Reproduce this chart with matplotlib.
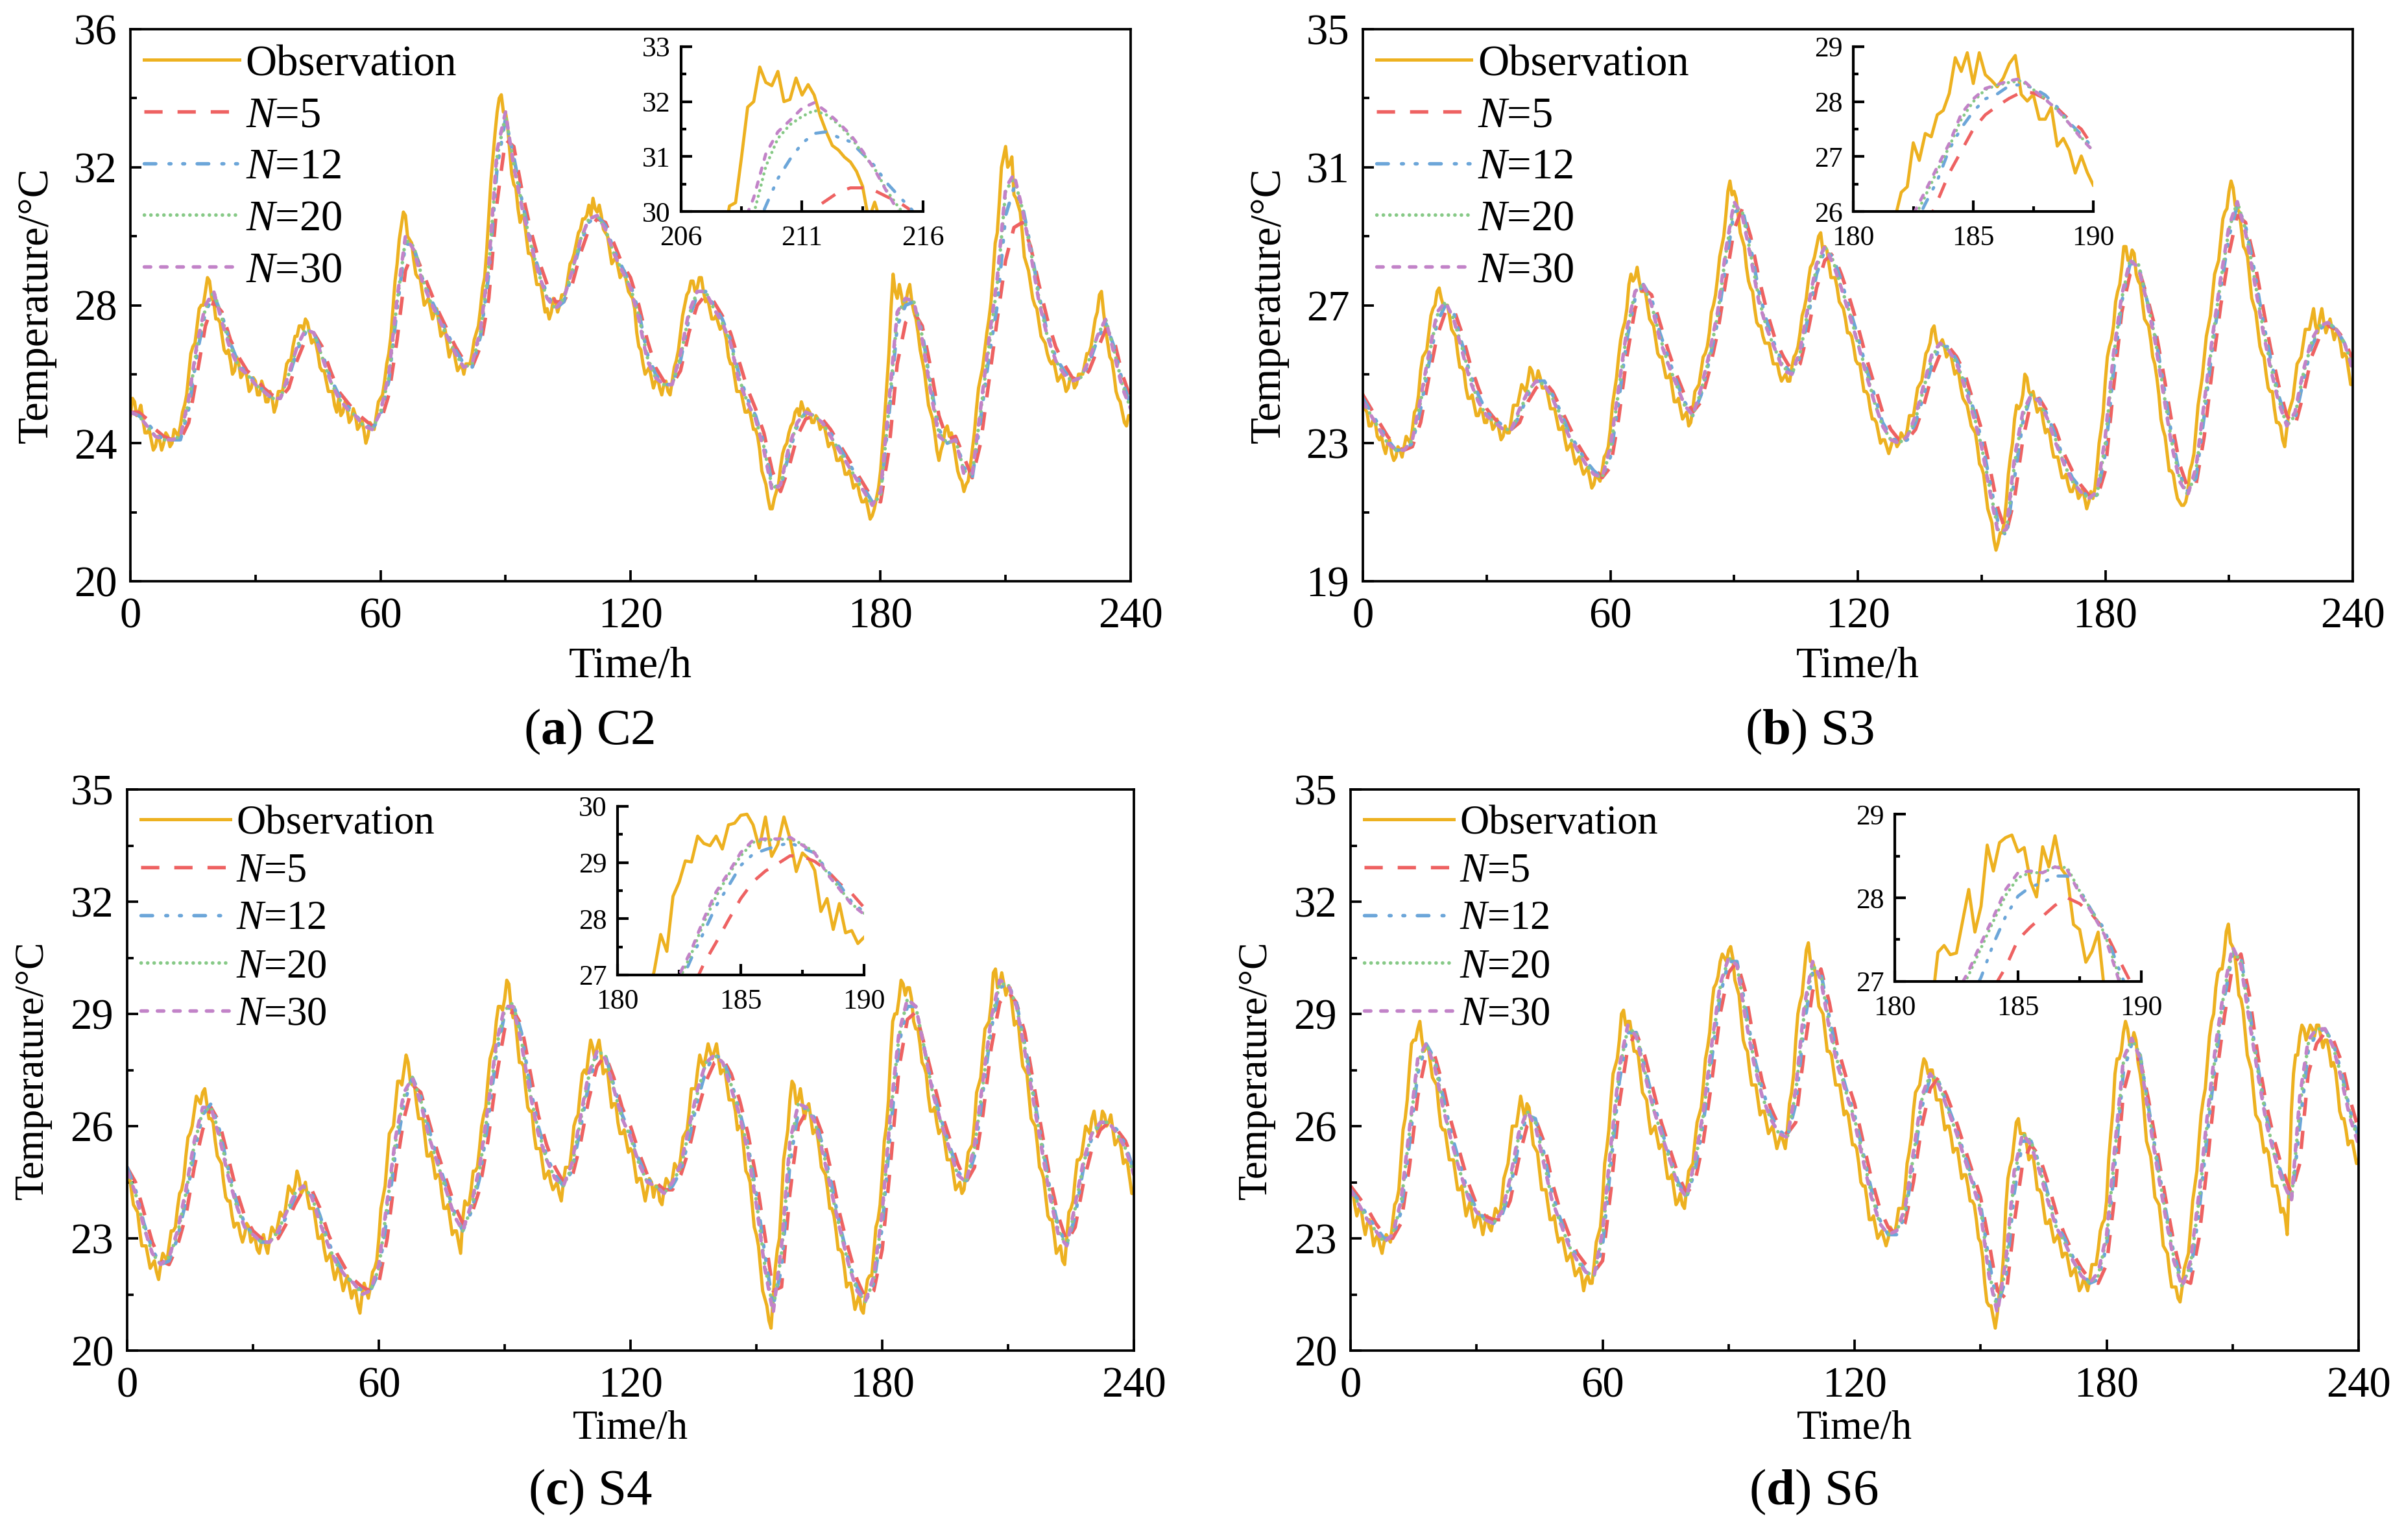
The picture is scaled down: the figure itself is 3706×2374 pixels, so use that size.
import numpy as np
import matplotlib
matplotlib.use("Agg")
import matplotlib.pyplot as plt

plt.rcParams['font.family'] = ['Liberation Serif', 'DejaVu Serif']
plt.rcParams['mathtext.fontset'] = 'custom'
plt.rcParams['mathtext.rm'] = 'Liberation Serif'
plt.rcParams['mathtext.it'] = 'Liberation Serif:italic'
plt.rcParams['mathtext.bf'] = 'Liberation Serif:bold'

# ---------------- data ----------------
# observation on the full hour, t = 0..240 h
obs_c2 = [
    24.8, 25.2, 24.9, 24.7, 24.3, 24.1, 23.9, 24.1, 24.0, 24.2,
    24.0, 24.3, 24.5, 25.1, 26.0, 26.8, 27.4, 28.0, 28.4, 28.7,
    28.1, 27.6, 27.1, 26.6, 26.4, 26.1, 26.3, 26.0, 25.9, 25.6,
    25.8, 25.4, 25.6, 25.2, 25.3, 25.1, 25.5, 25.9, 26.4, 26.8,
    27.1, 27.4, 27.6, 27.2, 27.0, 26.6, 26.1, 25.8, 25.5, 25.1,
    25.3, 24.9, 25.0, 24.7, 24.8, 24.5, 24.4, 24.2, 24.5, 24.8,
    25.3, 25.8, 26.6, 27.9, 29.2, 30.3, 30.6, 29.9, 29.3, 28.8,
    28.4, 28.1, 27.9, 27.8, 27.5, 27.2, 26.9, 26.7, 26.4, 26.2,
    26.0, 26.3, 26.6, 27.2, 27.9, 28.8, 30.6, 32.3, 33.6, 34.1,
    33.6, 32.5, 31.5, 30.8, 30.6, 30.0, 29.5, 29.0, 28.6, 28.2,
    27.9, 27.8, 28.1, 28.0, 28.3, 28.8, 29.3, 29.8, 30.2, 30.5,
    30.9, 31.1, 30.7, 30.6, 30.1, 29.6, 29.3, 29.1, 28.9, 28.7,
    28.3, 27.9, 26.8, 26.3, 26.1, 25.9, 25.8, 25.6, 25.7, 25.5,
    25.8, 26.4, 27.2, 28.0, 28.4, 28.7, 28.5, 28.8, 28.1, 27.9,
    27.6, 27.5, 27.4, 27.0, 26.3, 25.9, 25.5, 25.2, 24.9, 24.7,
    24.4, 23.8, 23.0, 22.4, 22.1, 22.6, 23.3, 23.9, 24.3, 24.6,
    25.0, 25.2, 24.8, 24.9, 24.6, 24.7, 24.5, 24.2, 24.0, 23.8,
    23.5, 23.4, 23.1, 23.0, 22.8, 22.5, 22.3, 22.1, 21.9, 22.4,
    23.2, 24.8, 26.6, 28.9, 28.2, 28.3, 28.0, 28.6, 27.8, 27.2,
    26.4, 25.6, 24.9, 24.3, 23.5, 24.0, 24.5, 24.3, 23.6, 23.0,
    22.6, 22.9, 23.8, 25.0, 25.9, 26.7, 27.6, 28.9, 30.1, 32.0,
    32.6, 32.1, 31.2, 30.9, 30.1, 29.2, 28.6, 28.0, 27.5, 27.0,
    26.6, 26.3, 26.1, 25.9, 25.8, 25.6, 25.9, 25.7, 26.0, 26.3,
    26.6, 27.2, 27.8, 28.4, 27.3, 26.5, 26.0, 25.3, 24.9, 24.5,
    24.8]
# observation on the half hour, t = 0.5..239.5 h
obs_c2_half = [
    25.3, 24.8, 25.1, 24.3, 24.4, 23.8, 24.2, 23.8, 24.3, 23.9,
    24.4, 24.2, 24.9, 25.4, 26.6, 26.9, 27.9, 28.0, 28.8, 28.2,
    27.6, 27.5, 26.7, 26.7, 26.0, 26.5, 25.9, 26.2, 25.5, 25.9,
    25.4, 25.8, 25.2, 25.5, 24.9, 25.5, 25.5, 26.3, 26.4, 27.1,
    27.4, 27.3, 27.5, 26.9, 26.9, 26.2, 26.1, 25.5, 25.5, 24.9,
    24.8, 25.2, 24.6, 25.0, 24.4, 24.7, 24.0, 24.6, 24.4, 25.2,
    25.4, 26.3, 27.1, 28.7, 29.9, 30.7, 30.0, 29.8, 28.9, 28.8,
    28.0, 28.2, 27.6, 27.9, 27.1, 27.3, 26.5, 26.8, 26.1, 26.3,
    26.3, 26.3, 27.0, 27.4, 28.5, 29.6, 31.6, 33.0, 34.0, 33.6,
    33.2, 31.8, 31.4, 30.4, 30.5, 29.5, 29.4, 28.6, 28.6, 27.8,
    27.6, 28.2, 27.8, 28.3, 28.4, 29.2, 29.5, 30.1, 30.5, 30.6,
    30.6, 30.8, 30.9, 30.2, 30.0, 29.2, 29.4, 28.8, 29.0, 28.4,
    28.2, 27.2, 26.7, 26.0, 26.2, 25.6, 25.9, 25.4, 25.8, 25.4,
    26.2, 26.7, 27.7, 28.3, 28.7, 28.4, 28.8, 28.4, 28.2, 27.6,
    27.7, 27.3, 27.3, 26.5, 26.3, 25.5, 25.5, 24.9, 25.0, 24.4,
    24.2, 23.2, 22.8, 22.1, 22.4, 22.8, 23.7, 24.0, 24.5, 24.9,
    24.8, 25.0, 25.0, 24.6, 24.8, 24.4, 24.5, 23.9, 24.0, 23.5,
    23.6, 23.1, 23.2, 22.7, 22.8, 22.3, 22.4, 21.8, 22.1, 22.7,
    24.0, 25.7, 27.9, 28.4, 28.6, 27.9, 28.4, 28.1, 27.6, 26.7,
    26.1, 25.1, 24.7, 23.8, 23.8, 24.4, 24.2, 24.0, 23.2, 22.9,
    22.8, 23.3, 24.3, 25.6, 26.2, 27.2, 28.1, 29.8, 31.0, 32.3,
    32.0, 32.3, 31.1, 30.7, 29.4, 29.0, 28.2, 27.9, 27.1, 26.9,
    26.4, 26.4, 25.8, 26.0, 25.5, 25.9, 25.6, 26.0, 26.0, 26.6,
    26.8, 27.6, 28.3, 27.8, 26.9, 26.4, 25.5, 25.2, 24.6, 24.8]

obs_s3 = [
    24.4, 23.9, 23.5, 23.6, 23.1, 22.9, 23.0, 22.7, 22.6, 22.8,
    22.9, 23.1, 23.4, 24.0, 25.1, 25.6, 26.2, 26.9, 27.4, 27.2,
    27.0, 26.7, 26.2, 25.6, 25.2, 24.6, 24.3, 24.1, 23.8, 23.9,
    23.6, 23.7, 23.5, 23.4, 23.2, 23.3, 23.7, 24.1, 24.4, 24.6,
    24.8, 25.1, 24.8, 24.9, 24.6, 24.3, 24.0, 23.7, 23.4, 23.1,
    22.9, 22.7, 22.5, 22.3, 22.2, 22.0, 21.8, 22.0, 22.2, 22.7,
    23.4, 24.5, 25.5, 26.3, 26.9, 27.9, 27.8, 27.7, 27.4, 27.0,
    26.5, 26.0, 25.5, 25.2, 24.9, 24.6, 24.2, 24.0, 23.8, 23.5,
    24.0, 24.6, 25.1, 25.6, 26.2, 27.0, 27.8, 28.7, 29.6, 30.6,
    30.3, 29.6, 28.9, 28.1, 27.5, 26.9, 26.4, 26.1, 25.9, 25.6,
    25.3, 25.0, 24.9, 24.8, 25.2, 25.6, 26.2, 26.9, 27.7, 28.2,
    28.7, 29.1, 28.7, 28.2, 27.8, 27.5, 27.0, 26.6, 26.2, 25.8,
    25.3, 24.9, 24.5, 24.0, 23.7, 23.3, 23.1, 22.9, 22.9, 23.1,
    23.0, 23.2, 23.4, 23.8, 24.2, 24.7, 25.2, 25.7, 26.3, 26.0,
    25.9, 25.8, 25.6, 25.3, 25.1, 24.6, 24.2, 23.8, 23.4, 22.9,
    22.3, 21.6, 20.9, 20.2, 20.1, 20.4, 21.3, 22.6, 23.7, 24.0,
    24.4, 24.9, 24.4, 24.2, 24.0, 23.6, 23.4, 22.9, 22.6, 22.3,
    22.0, 21.8, 21.6, 21.7, 21.5, 21.4, 21.3, 21.4, 22.3, 23.4,
    24.8, 25.8, 26.4, 27.4, 28.1, 28.7, 28.3, 28.5, 27.7, 27.1,
    26.5, 26.0, 25.3, 24.4, 23.4, 22.7, 22.2, 21.7, 21.3, 21.2,
    21.6, 22.4, 23.4, 24.5, 25.5, 26.4, 27.3, 28.1, 28.9, 29.7,
    30.3, 30.4, 29.8, 29.2, 28.6, 27.8, 27.0, 26.3, 25.6, 25.0,
    24.5, 24.0, 23.6, 23.1, 23.4, 24.1, 24.8, 25.4, 25.9, 26.3,
    26.6, 26.4, 26.6, 26.5, 26.4, 26.3, 26.2, 25.9, 25.6, 25.1,
    24.7]
obs_s3_half = [
    24.0, 23.5, 23.7, 23.2, 23.2, 22.7, 23.1, 22.5, 22.9, 22.6,
    23.2, 23.0, 23.9, 24.4, 25.5, 25.7, 26.7, 27.0, 27.5, 27.0,
    27.0, 26.3, 26.1, 25.2, 25.1, 24.3, 24.4, 23.8, 24.0, 23.6,
    23.9, 23.4, 23.7, 23.1, 23.5, 23.3, 24.1, 24.1, 24.7, 24.5,
    25.2, 24.8, 25.1, 24.6, 24.6, 24.0, 24.0, 23.4, 23.5, 22.8,
    23.0, 22.4, 22.6, 22.1, 22.3, 21.7, 22.1, 21.9, 22.6, 22.9,
    24.1, 24.9, 26.0, 26.5, 27.6, 27.7, 28.1, 27.4, 27.4, 26.6,
    26.4, 25.6, 25.5, 24.9, 25.0, 24.2, 24.3, 23.7, 23.9, 23.6,
    24.5, 24.7, 25.5, 25.8, 26.8, 27.3, 28.4, 29.0, 30.3, 30.2,
    30.1, 29.1, 28.7, 27.7, 27.4, 26.5, 26.4, 25.9, 25.9, 25.3,
    25.3, 24.8, 25.0, 24.8, 25.5, 25.8, 26.7, 27.2, 28.1, 28.4,
    29.0, 28.6, 28.6, 27.8, 27.8, 27.1, 26.9, 26.2, 26.1, 25.4,
    25.3, 24.5, 24.4, 23.7, 23.6, 23.0, 23.1, 22.7, 23.1, 22.9,
    23.3, 23.1, 23.8, 23.8, 24.6, 24.8, 25.6, 25.9, 26.4, 25.8,
    26.0, 25.5, 25.6, 25.0, 25.0, 24.3, 24.1, 23.5, 23.3, 22.4,
    22.1, 21.1, 20.7, 19.9, 20.4, 20.7, 22.1, 23.0, 24.1, 24.1,
    25.0, 24.5, 24.5, 23.9, 24.0, 23.3, 23.3, 22.6, 22.6, 22.0,
    22.1, 21.6, 21.8, 21.4, 21.7, 21.1, 21.6, 21.7, 23.0, 23.9,
    25.5, 26.0, 27.1, 27.6, 28.7, 28.3, 28.6, 27.9, 27.6, 26.6,
    26.4, 25.5, 24.9, 23.7, 23.2, 22.2, 22.1, 21.4, 21.2, 21.3,
    22.2, 22.7, 24.1, 24.9, 26.1, 26.7, 27.9, 28.3, 29.5, 29.8,
    30.6, 29.9, 29.7, 28.7, 28.4, 27.2, 26.8, 25.8, 25.5, 24.6,
    24.5, 23.6, 23.5, 22.9, 23.9, 24.3, 25.3, 25.5, 26.3, 26.3,
    26.9, 26.2, 26.9, 26.2, 26.6, 26.0, 26.2, 25.5, 25.5, 24.7]

obs_s4 = [
    24.8, 24.3, 23.8, 23.2, 22.8, 22.5, 22.3, 22.1, 22.3, 22.5,
    22.8, 23.2, 23.8, 24.3, 25.2, 25.8, 26.4, 26.7, 26.9, 26.6,
    26.2, 25.6, 25.1, 24.5, 24.0, 23.6, 23.4, 23.1, 23.1, 23.3,
    23.0, 22.7, 22.9, 22.8, 23.0, 23.2, 23.4, 23.6, 24.0, 24.3,
    24.4, 24.6, 24.3, 24.1, 23.8, 23.4, 23.0, 22.7, 22.5, 22.2,
    22.1, 21.9, 21.8, 21.7, 21.6, 21.2, 21.5, 21.6, 21.7, 22.2,
    23.0, 24.1, 25.1, 25.9, 26.6, 27.2, 27.5, 27.7, 27.1, 26.6,
    26.2, 25.7, 25.2, 25.0, 24.7, 24.2, 23.8, 23.5, 23.2, 22.9,
    23.5, 23.9, 24.3, 24.8, 25.4, 26.3, 27.2, 28.0, 28.8, 29.2,
    29.4, 29.8, 28.9, 28.3, 27.7, 27.0, 26.4, 25.8, 25.4, 25.0,
    24.7, 24.5, 24.4, 24.2, 24.5, 24.9, 25.4, 26.2, 26.9, 27.5,
    27.9, 28.1, 28.1, 27.9, 27.5, 27.0, 26.6, 26.1, 25.8, 25.6,
    25.4, 24.9, 24.6, 24.3, 24.3, 24.5, 24.4, 24.0, 24.3, 24.5,
    24.6, 24.9, 25.2, 25.8, 26.4, 27.0, 27.5, 27.7, 27.9, 28.0,
    28.0, 27.8, 27.5, 27.1, 26.7, 26.4, 26.0, 25.4, 24.7, 23.9,
    23.1, 22.2, 21.4, 20.8, 21.4, 22.7, 24.0, 25.5, 26.7, 27.1,
    26.7, 26.6, 26.5, 26.2, 25.9, 25.4, 24.8, 24.3, 23.8, 23.2,
    22.7, 22.2, 21.8, 21.5, 21.3, 21.1, 21.5, 22.0, 22.6, 23.5,
    24.7, 26.0, 27.9, 29.0, 29.4, 29.8, 29.7, 29.4, 28.6, 28.2,
    27.6, 26.8, 26.4, 26.1, 25.9, 25.5, 25.1, 24.7, 24.4, 24.2,
    24.8, 25.4, 26.1, 27.1, 28.0, 28.7, 29.3, 30.2, 29.8, 29.8,
    29.7, 29.2, 28.8, 28.1, 27.5, 26.8, 26.1, 25.5, 24.8, 24.1,
    23.5, 23.1, 22.7, 22.4, 23.0, 23.8, 24.6, 25.1, 25.6, 25.9,
    26.2, 26.0, 26.0, 26.3, 26.1, 25.9, 25.6, 25.4, 25.1, 24.6,
    24.2]
obs_s4_half = [
    24.7, 23.9, 23.7, 22.8, 22.8, 22.2, 22.4, 21.9, 22.6, 22.4,
    23.2, 23.3, 24.2, 24.6, 25.7, 26.0, 26.8, 26.6, 27.0, 26.2,
    26.1, 25.2, 25.0, 24.1, 24.0, 23.3, 23.4, 22.9, 23.4, 22.9,
    23.0, 22.6, 23.1, 22.6, 23.3, 23.1, 23.7, 23.6, 24.4, 24.2,
    24.8, 24.2, 24.5, 23.8, 23.8, 23.0, 23.1, 22.4, 22.6, 21.9,
    22.3, 21.6, 22.0, 21.4, 21.6, 21.0, 21.8, 21.4, 22.1, 22.4,
    23.8, 24.4, 25.8, 26.0, 27.2, 27.1, 27.9, 27.2, 27.1, 26.2,
    26.2, 25.2, 25.3, 24.6, 24.7, 23.8, 23.9, 23.1, 23.2, 22.6,
    24.0, 23.9, 24.8, 24.9, 26.0, 26.5, 27.8, 28.2, 29.2, 29.1,
    29.9, 29.2, 28.9, 27.7, 27.6, 26.5, 26.4, 25.4, 25.4, 24.6,
    24.8, 24.3, 24.5, 24.0, 24.9, 24.9, 26.0, 26.3, 27.4, 27.4,
    28.3, 27.8, 28.3, 27.4, 27.5, 26.5, 26.6, 25.8, 25.9, 25.3,
    25.3, 24.5, 24.6, 24.0, 24.6, 24.1, 24.4, 23.9, 24.6, 24.3,
    25.0, 24.8, 25.7, 25.9, 27.0, 27.0, 27.9, 27.6, 28.2, 27.8,
    28.2, 27.4, 27.5, 26.7, 26.7, 25.9, 26.0, 24.8, 24.5, 23.3,
    22.8, 21.6, 21.2, 20.6, 22.2, 23.0, 25.1, 25.9, 27.2, 26.6,
    27.0, 26.2, 26.6, 25.8, 25.8, 24.9, 24.7, 23.8, 23.6, 22.7,
    22.6, 21.7, 21.8, 21.1, 21.5, 21.0, 21.9, 22.0, 23.3, 23.9,
    25.6, 26.7, 28.8, 29.0, 29.9, 29.5, 29.7, 28.8, 28.6, 27.7,
    27.4, 26.4, 26.5, 25.8, 25.9, 25.1, 25.1, 24.3, 24.5, 24.3,
    25.3, 25.5, 26.9, 27.3, 28.6, 28.8, 30.1, 29.7, 30.1, 29.5,
    29.7, 28.7, 28.7, 27.6, 27.4, 26.2, 26.0, 24.9, 24.6, 23.6,
    23.5, 22.6, 22.8, 22.3, 23.7, 24.0, 25.1, 25.2, 26.0, 25.8,
    26.4, 25.8, 26.4, 26.0, 26.3, 25.5, 25.7, 25.0, 25.0, 24.2]

obs_s6 = [
    24.2, 23.9, 23.8, 23.4, 23.4, 23.2, 23.0, 22.8, 22.9, 23.0,
    23.4, 24.0, 25.1, 26.2, 27.5, 28.3, 28.6, 28.3, 28.1, 27.7,
    27.2, 26.5, 25.9, 25.5, 25.1, 24.7, 24.3, 24.0, 23.8, 23.6,
    23.5, 23.4, 23.4, 23.3, 23.5, 23.7, 24.0, 24.8, 25.5, 26.0,
    26.4, 26.5, 26.6, 26.0, 25.4, 24.8, 24.3, 23.9, 23.5, 23.2,
    23.0, 22.7, 22.5, 22.3, 22.1, 22.0, 21.9, 21.8, 22.3, 23.1,
    24.0, 25.4, 26.7, 27.6, 28.3, 29.1, 28.8, 28.4, 28.0, 27.4,
    26.8, 26.2, 25.9, 25.7, 25.5, 25.0, 24.6, 24.3, 24.0, 23.9,
    24.3, 24.9, 25.6, 26.3, 27.1, 28.1, 29.2, 29.8, 30.4, 30.5,
    30.7, 30.5, 29.7, 28.9, 28.1, 27.5, 27.1, 26.7, 26.4, 26.1,
    25.9, 25.7, 25.6, 25.6, 25.9, 26.9, 28.3, 29.3, 30.1, 30.9,
    30.4, 29.7, 29.1, 28.5, 28.0, 27.5, 27.1, 26.7, 26.4, 25.9,
    25.5, 25.0, 24.4, 24.0, 23.5, 23.3, 23.1, 23.0, 23.0, 23.2,
    23.4, 23.8, 24.3, 25.3, 26.4, 27.0, 27.5, 27.7, 27.5, 27.1,
    26.7, 26.3, 26.0, 25.7, 25.4, 25.0, 24.7, 24.4, 24.0, 23.5,
    22.9, 21.8, 21.2, 20.9, 21.0, 21.8, 23.8, 24.9, 25.6, 26.2,
    25.8, 25.5, 25.2, 24.8, 24.3, 23.8, 23.4, 23.2, 23.0, 22.8,
    22.6, 22.3, 22.1, 21.9, 21.7, 21.8, 21.9, 22.3, 22.7, 23.4,
    24.0, 25.8, 27.4, 27.8, 28.5, 28.6, 28.2, 28.3, 27.4, 26.3,
    25.4, 24.7, 24.0, 23.4, 22.7, 22.1, 21.7, 21.4, 21.7, 22.4,
    23.3, 24.4, 25.6, 26.7, 27.7, 28.8, 29.7, 30.2, 30.6, 31.4,
    30.8, 30.1, 29.4, 28.5, 27.7, 26.9, 26.2, 25.7, 25.4, 24.9,
    24.4, 24.1, 23.8, 23.1, 26.4, 27.9, 28.4, 28.6, 28.5, 28.6,
    28.7, 28.4, 28.3, 28.0, 27.7, 27.0, 26.2, 25.9, 25.6, 25.3,
    25.1]
obs_s6_half = [
    24.3, 23.6, 23.8, 23.1, 23.5, 22.8, 23.1, 22.6, 23.1, 22.9,
    23.9, 24.3, 25.9, 26.7, 28.2, 28.3, 28.8, 28.0, 28.1, 27.3,
    27.1, 26.0, 25.9, 25.1, 25.1, 24.3, 24.4, 23.6, 24.0, 23.3,
    23.7, 23.1, 23.6, 23.2, 23.8, 23.6, 24.6, 25.0, 26.0, 26.0,
    26.8, 26.2, 26.5, 25.5, 25.3, 24.3, 24.3, 23.5, 23.6, 22.9,
    23.0, 22.4, 22.6, 22.0, 22.2, 21.6, 22.0, 21.8, 22.9, 23.3,
    25.0, 25.9, 27.4, 27.8, 29.0, 28.7, 28.8, 28.0, 27.9, 26.9,
    26.7, 25.8, 26.0, 25.4, 25.5, 24.6, 24.7, 23.9, 24.2, 23.8,
    24.8, 25.0, 26.1, 26.5, 27.8, 28.5, 29.7, 30.0, 30.6, 30.4,
    30.8, 29.9, 29.5, 28.3, 28.0, 27.1, 27.1, 26.3, 26.4, 25.8,
    26.0, 25.4, 25.8, 25.4, 26.6, 27.4, 29.0, 29.5, 30.7, 30.4,
    30.2, 29.2, 29.0, 28.0, 27.9, 27.1, 27.1, 26.3, 26.3, 25.5,
    25.4, 24.5, 24.4, 23.5, 23.6, 23.0, 23.2, 22.8, 23.3, 23.1,
    23.8, 23.8, 25.0, 25.7, 26.9, 27.1, 27.8, 27.4, 27.5, 26.7,
    26.7, 25.9, 26.0, 25.3, 25.4, 24.6, 24.7, 24.0, 23.9, 23.0,
    22.5, 21.3, 21.2, 20.6, 21.6, 22.6, 24.6, 25.1, 26.1, 25.8,
    25.8, 25.1, 25.2, 24.3, 24.2, 23.4, 23.5, 22.9, 23.1, 22.5,
    22.6, 22.0, 22.2, 21.6, 21.9, 21.6, 22.3, 22.3, 23.2, 23.5,
    25.1, 26.4, 27.8, 28.0, 28.8, 28.2, 28.5, 27.7, 27.0, 25.6,
    25.2, 24.1, 23.9, 22.8, 22.6, 21.7, 21.7, 21.3, 22.2, 22.6,
    24.0, 24.8, 26.3, 27.0, 28.4, 29.0, 30.1, 30.2, 31.2, 30.9,
    30.6, 29.5, 29.1, 27.9, 27.5, 26.3, 26.1, 25.3, 25.3, 24.4,
    24.4, 23.7, 23.6, 24.6, 27.4, 27.9, 28.7, 28.3, 28.7, 28.4,
    28.7, 28.1, 28.3, 27.6, 27.5, 26.4, 26.2, 25.5, 25.6, 25.0]

# predictions every 2 h, t = 0..240 h
n5_c2 = [
    24.9, 24.9, 24.7, 24.4, 24.2, 24.1, 24.1, 24.6, 26.0, 27.4,
    28.1, 27.8, 27.0, 26.5, 26.1, 25.9, 25.6, 25.4, 25.3, 25.6,
    26.4, 27.0, 27.2, 26.8, 26.1, 25.5, 25.2, 24.9, 24.7, 24.5,
    24.6, 25.4, 27.0, 29.0, 29.6, 29.0, 28.4, 27.8, 27.3, 26.8,
    26.4, 26.2, 26.8, 28.2, 31.0, 32.8, 32.6, 31.3, 30.2, 29.3,
    28.6, 28.1, 28.1, 28.6, 29.5, 30.2, 30.5, 30.4, 29.8, 29.2,
    28.8, 28.0, 27.0, 26.2, 25.8, 25.7, 26.1, 27.2, 28.0, 28.3,
    28.1, 27.7, 27.2, 26.4, 25.6, 25.0, 24.3, 23.2, 22.6, 23.3,
    24.2, 24.7, 24.8, 24.7, 24.4, 24.0, 23.6, 23.2, 22.8, 22.4,
    22.3, 23.8, 26.3, 27.5, 27.8, 27.4, 26.2, 24.8, 24.1, 24.2,
    23.6, 23.0, 24.0, 25.8, 27.6, 29.3, 30.25, 30.4, 29.7, 28.6,
    27.6, 26.8, 26.3, 25.9, 25.8, 26.1, 26.7, 27.3, 27.0, 26.0, 25.3]
n12_c2 = [
    24.9, 24.8, 24.6, 24.3, 24.1, 24.1, 24.1, 25.0, 26.6, 27.8,
    28.3, 27.7, 26.9, 26.3, 26.0, 25.8, 25.5, 25.3, 25.3, 25.9,
    26.7, 27.2, 27.2, 26.6, 25.9, 25.4, 25.1, 24.8, 24.6, 24.4,
    24.8, 25.8, 27.9, 29.8, 29.7, 28.8, 28.2, 27.7, 27.2, 26.7,
    26.3, 26.2, 27.1, 28.9, 32.0, 33.4, 32.3, 31.0, 29.9, 29.0,
    28.3, 27.9, 28.1, 28.9, 29.8, 30.4, 30.6, 30.3, 29.6, 29.1,
    28.6, 27.8, 26.6, 26.0, 25.7, 25.7, 26.4, 27.6, 28.3, 28.4,
    28.0, 27.6, 27.0, 26.0, 25.3, 24.8, 24.0, 22.8, 22.7, 23.7,
    24.5, 24.9, 24.8, 24.6, 24.3, 23.9, 23.5, 23.1, 22.7, 22.3,
    22.5, 24.8, 27.4, 28.0, 28.1, 27.2, 25.7, 24.4, 24.0, 24.1,
    23.3, 23.0, 24.7, 26.5, 28.0, 30.6, 31.4, 30.9, 29.7, 28.3,
    27.2, 26.5, 26.1, 25.8, 25.9, 26.3, 27.0, 27.5, 26.8, 25.8, 25.1]
n20_c2 = [
    24.9, 24.8, 24.5, 24.2, 24.1, 24.1, 24.2, 25.2, 26.8, 27.9,
    28.4, 27.6, 26.8, 26.2, 26.0, 25.7, 25.5, 25.3, 25.3, 26.0,
    26.8, 27.3, 27.2, 26.5, 25.8, 25.3, 25.0, 24.8, 24.5, 24.4,
    24.9, 25.9, 28.1, 29.9, 29.7, 28.8, 28.1, 27.6, 27.1, 26.6,
    26.2, 26.3, 27.2, 29.1, 32.3, 33.5, 32.1, 30.9, 29.8, 28.9,
    28.2, 27.9, 28.2, 29.0, 29.9, 30.5, 30.6, 30.2, 29.5, 29.0,
    28.5, 27.7, 26.5, 25.9, 25.7, 25.7, 26.5, 27.7, 28.4, 28.4,
    27.9, 27.5, 26.9, 25.9, 25.2, 24.7, 23.9, 22.7, 22.8, 23.8,
    24.6, 24.9, 24.8, 24.6, 24.2, 23.8, 23.4, 23.0, 22.6, 22.2,
    22.5, 25.0, 27.7, 28.2, 28.1, 27.1, 25.6, 24.3, 24.0, 24.1,
    23.2, 23.1, 24.9, 26.8, 28.6, 31.3, 31.7, 30.8, 29.6, 28.2,
    27.1, 26.4, 26.0, 25.8, 25.9, 26.4, 27.1, 27.6, 26.7, 25.7, 25.0]
n30_c2 = [
    24.9, 24.8, 24.5, 24.2, 24.1, 24.1, 24.2, 25.3, 26.9, 28.0,
    28.4, 27.5, 26.7, 26.2, 26.0, 25.7, 25.5, 25.3, 25.3, 26.0,
    26.8, 27.3, 27.2, 26.5, 25.8, 25.3, 25.0, 24.8, 24.5, 24.4,
    24.9, 26.0, 28.2, 30.0, 29.6, 28.7, 28.1, 27.6, 27.1, 26.6,
    26.2, 26.3, 27.3, 29.2, 32.5, 33.6, 32.0, 30.8, 29.8, 28.9,
    28.2, 27.9, 28.2, 29.0, 29.9, 30.5, 30.6, 30.2, 29.5, 29.0,
    28.5, 27.6, 26.4, 25.9, 25.7, 25.7, 26.6, 27.8, 28.4, 28.4,
    27.9, 27.5, 26.9, 25.8, 25.2, 24.7, 23.8, 22.6, 22.8, 23.9,
    24.6, 24.9, 24.8, 24.6, 24.2, 23.8, 23.4, 23.0, 22.6, 22.2,
    22.6, 25.2, 27.8, 28.2, 28.1, 27.0, 25.5, 24.2, 24.0, 24.1,
    23.1, 23.1, 25.0, 27.0, 28.8, 31.4, 31.8, 30.8, 29.5, 28.1,
    27.1, 26.4, 26.0, 25.8, 25.9, 26.4, 27.1, 27.6, 26.6, 25.6, 25.0]

n5_s3 = [
    24.4, 24.0, 23.6, 23.2, 22.9, 22.8, 22.9, 23.6, 24.9, 26.1,
    26.8, 26.9, 26.2, 25.3, 24.6, 24.0, 23.7, 23.5, 23.4, 23.6,
    24.2, 24.6, 24.8, 24.5, 24.0, 23.5, 23.0, 22.6, 22.3, 22.0,
    22.3, 23.7, 25.5, 26.9, 27.5, 27.3, 26.5, 25.7, 25.0, 24.4,
    23.9, 24.2, 25.1, 26.2, 27.7, 29.2, 29.8, 29.0, 27.8, 26.8,
    26.0, 25.5, 25.1, 25.3, 26.3, 27.5, 28.3, 28.5, 27.9, 27.2,
    26.4, 25.5, 24.7, 23.9, 23.4, 23.1, 23.1, 23.4, 24.1, 25.0,
    25.6, 25.8, 25.5, 25.0, 24.2, 23.4, 22.3, 21.1, 20.4, 21.4,
    23.1, 24.2, 24.3, 23.9, 23.4, 22.7, 22.2, 21.8, 21.5, 21.4,
    22.2, 24.6, 26.8, 27.9, 28.1, 27.3, 26.4, 25.1, 23.7, 22.4,
    21.7, 21.8, 23.2, 25.2, 27.0, 28.5, 29.6, 29.4, 28.4, 27.1,
    25.8, 24.7, 23.8, 23.5, 24.4, 25.5, 26.1, 26.4, 26.3, 26.0, 25.4]
n12_s3 = [
    24.3, 23.9, 23.5, 23.1, 22.8, 22.8, 23.0, 24.0, 25.3, 26.5,
    27.0, 26.8, 25.9, 25.0, 24.4, 23.9, 23.7, 23.5, 23.4, 23.8,
    24.4, 24.8, 24.8, 24.4, 23.9, 23.3, 22.9, 22.5, 22.2, 22.0,
    22.6, 24.2, 26.0, 27.2, 27.6, 27.2, 26.2, 25.5, 24.8, 24.2,
    23.8, 24.4, 25.4, 26.5, 28.2, 29.7, 29.8, 28.7, 27.4, 26.5,
    25.8, 25.3, 25.0, 25.5, 26.7, 27.9, 28.6, 28.4, 27.7, 26.9,
    26.1, 25.2, 24.4, 23.6, 23.2, 23.0, 23.1, 23.6, 24.4, 25.3,
    25.8, 25.8, 25.4, 24.8, 24.0, 23.1, 21.9, 20.7, 20.3, 22.0,
    23.6, 24.4, 24.3, 23.8, 23.2, 22.5, 22.0, 21.7, 21.4, 21.5,
    22.7, 25.1, 27.1, 28.2, 28.2, 27.2, 26.2, 24.8, 23.3, 22.1,
    21.6, 22.0, 23.8, 25.8, 27.5, 29.0, 29.9, 29.3, 28.1, 26.7,
    25.5, 24.4, 23.6, 23.7, 24.8, 25.8, 26.3, 26.5, 26.3, 25.9, 25.2]
n20_s3 = [
    24.2, 23.8, 23.4, 23.0, 22.8, 22.8, 23.1, 24.2, 25.5, 26.7,
    27.1, 26.6, 25.8, 24.9, 24.2, 23.8, 23.6, 23.4, 23.4, 23.9,
    24.5, 24.8, 24.7, 24.3, 23.8, 23.2, 22.8, 22.4, 22.1, 22.0,
    22.8, 24.5, 26.2, 27.4, 27.6, 27.0, 26.1, 25.3, 24.7, 24.1,
    23.8, 24.5, 25.5, 26.7, 28.5, 29.9, 29.7, 28.5, 27.2, 26.3,
    25.7, 25.2, 25.0, 25.6, 26.9, 28.1, 28.7, 28.3, 27.5, 26.8,
    25.9, 25.1, 24.2, 23.5, 23.1, 23.0, 23.2, 23.7, 24.6, 25.5,
    25.9, 25.7, 25.3, 24.7, 23.9, 22.9, 21.7, 20.5, 20.4, 22.4,
    23.8, 24.4, 24.2, 23.7, 23.1, 22.4, 21.9, 21.6, 21.4, 21.5,
    23.0, 25.5, 27.2, 28.3, 28.2, 27.2, 26.1, 24.6, 23.1, 22.0,
    21.5, 22.2, 24.1, 26.0, 27.7, 29.2, 30.0, 29.2, 27.9, 26.5,
    25.3, 24.3, 23.5, 23.8, 25.0, 25.9, 26.4, 26.5, 26.3, 25.9, 25.2]
n30_s3 = [
    24.2, 23.8, 23.4, 23.0, 22.8, 22.8, 23.1, 24.3, 25.6, 26.8,
    27.1, 26.6, 25.7, 24.8, 24.2, 23.8, 23.6, 23.4, 23.4, 24.0,
    24.5, 24.8, 24.7, 24.3, 23.7, 23.2, 22.8, 22.4, 22.1, 22.0,
    22.9, 24.6, 26.3, 27.4, 27.6, 27.0, 26.0, 25.3, 24.7, 24.1,
    23.8, 24.6, 25.6, 26.8, 28.6, 30.0, 29.6, 28.4, 27.1, 26.3,
    25.7, 25.1, 25.0, 25.7, 27.0, 28.2, 28.7, 28.2, 27.5, 26.7,
    25.9, 25.0, 24.2, 23.5, 23.1, 23.0, 23.2, 23.8, 24.7, 25.6,
    25.9, 25.7, 25.3, 24.6, 23.8, 22.9, 21.6, 20.4, 20.5, 22.6,
    23.9, 24.4, 24.2, 23.7, 23.0, 22.4, 21.9, 21.6, 21.4, 21.6,
    23.2, 25.6, 27.3, 28.3, 28.1, 27.15, 26.0, 24.5, 23.0, 21.9,
    21.5, 22.3, 24.2, 26.1, 27.8, 29.3, 30.0, 29.1, 27.8, 26.4,
    25.2, 24.2, 23.5, 23.9, 25.1, 26.0, 26.4, 26.5, 26.3, 25.9, 25.1]

n5_s4 = [
    24.9, 24.5, 23.7, 22.9, 22.4, 22.3, 22.8, 23.6, 24.9, 25.9,
    26.5, 26.1, 25.2, 24.3, 23.6, 23.2, 23.0, 22.9, 23.0, 23.4,
    23.9, 24.3, 24.3, 23.8, 23.1, 22.6, 22.2, 21.9, 21.7, 21.6,
    21.8, 23.0, 24.8, 26.2, 27.1, 26.9, 26.1, 25.3, 24.6, 23.9,
    23.4, 23.6, 24.3, 25.6, 27.3, 28.6, 29.1, 28.7, 27.5, 26.3,
    25.5, 24.9, 24.5, 24.6, 25.5, 26.7, 27.6, 27.9, 27.3, 26.5,
    26.0, 25.3, 24.7, 24.5, 24.3, 24.3, 24.7, 25.4, 26.4, 27.2,
    27.7, 27.8, 27.4, 26.7, 25.8, 24.6, 23.1, 21.6, 21.7, 24.2,
    26.0, 26.4, 26.3, 25.7, 24.7, 23.6, 22.7, 21.9, 21.4, 21.6,
    22.7, 25.0, 27.55, 28.85, 29.05, 28.2, 27.3, 26.4, 25.7, 25.0,
    24.5, 24.9, 26.3, 28.1, 29.3, 29.6, 29.3, 28.5, 27.2, 25.9,
    24.6, 23.6, 22.9, 23.3, 24.5, 25.4, 25.9, 26.1, 25.9, 25.6, 25.0]
n12_s4 = [
    24.9, 24.3, 23.4, 22.7, 22.3, 22.4, 23.0, 24.0, 25.3, 26.3,
    26.6, 25.9, 24.9, 24.0, 23.4, 23.1, 22.9, 22.9, 23.1, 23.6,
    24.1, 24.4, 24.2, 23.6, 22.9, 22.4, 22.0, 21.8, 21.6, 21.6,
    22.1, 23.6, 25.3, 26.6, 27.3, 26.8, 25.9, 25.1, 24.4, 23.7,
    23.2, 23.7, 24.6, 26.1, 27.9, 29.0, 29.3, 28.5, 27.1, 26.0,
    25.2, 24.7, 24.4, 24.8, 25.9, 27.1, 27.9, 27.9, 27.1, 26.3,
    25.8, 25.1, 24.6, 24.4, 24.2, 24.4, 24.8, 25.7, 26.7, 27.5,
    27.9, 27.8, 27.2, 26.4, 25.5, 24.2, 22.6, 21.2, 22.2, 25.0,
    26.4, 26.5, 26.2, 25.4, 24.4, 23.3, 22.4, 21.7, 21.3, 21.8,
    23.3, 25.9, 28.2, 29.2, 29.2, 28.1, 27.0, 26.2, 25.5, 24.8,
    24.5, 25.2, 26.9, 28.6, 29.7, 29.8, 29.3, 28.2, 26.9, 25.6,
    24.3, 23.3, 22.8, 23.6, 24.9, 25.7, 26.1, 26.1, 25.9, 25.5, 24.8]
n20_s4 = [
    24.8, 24.2, 23.3, 22.6, 22.3, 22.5, 23.1, 24.2, 25.5, 26.4,
    26.5, 25.8, 24.8, 23.9, 23.3, 23.1, 22.9, 22.9, 23.2, 23.7,
    24.2, 24.4, 24.1, 23.5, 22.8, 22.3, 22.0, 21.8, 21.5, 21.6,
    22.2, 23.9, 25.6, 26.8, 27.3, 26.7, 25.7, 25.0, 24.3, 23.6,
    23.2, 23.8, 24.8, 26.4, 28.1, 29.1, 29.3, 28.3, 26.9, 25.9,
    25.1, 24.6, 24.4, 24.9, 26.1, 27.3, 28.0, 27.9, 27.0, 26.2,
    25.7, 25.0, 24.5, 24.4, 24.2, 24.5, 24.9, 25.9, 26.9, 27.7,
    27.9, 27.7, 27.1, 26.3, 25.4, 24.0, 22.3, 21.1, 22.6, 25.4,
    26.6, 26.5, 26.1, 25.3, 24.2, 23.2, 22.3, 21.6, 21.3, 21.9,
    23.6, 26.3, 28.4, 29.4, 29.2, 28.1, 26.9, 26.1, 25.4, 24.7,
    24.5, 25.4, 27.1, 28.8, 29.8, 29.8, 29.2, 28.1, 26.8, 25.5,
    24.2, 23.2, 22.8, 23.8, 25.0, 25.8, 26.1, 26.1, 25.8, 25.4, 24.7]
n30_s4 = [
    24.8, 24.2, 23.3, 22.6, 22.3, 22.5, 23.2, 24.3, 25.6, 26.5,
    26.5, 25.7, 24.7, 23.9, 23.3, 23.1, 22.9, 22.9, 23.2, 23.7,
    24.2, 24.4, 24.1, 23.4, 22.8, 22.3, 22.0, 21.8, 21.5, 21.6,
    22.3, 24.0, 25.7, 26.9, 27.3, 26.6, 25.7, 25.0, 24.3, 23.6,
    23.2, 23.9, 24.9, 26.5, 28.2, 29.2, 29.2, 28.2, 26.9, 25.8,
    25.1, 24.6, 24.4, 25.0, 26.2, 27.4, 28.0, 27.8, 27.0, 26.2,
    25.7, 25.0, 24.5, 24.4, 24.2, 24.5, 25.0, 26.0, 27.0, 27.7,
    27.9, 27.7, 27.0, 26.3, 25.3, 23.9, 22.2, 21.0, 22.8, 25.6,
    26.6, 26.5, 26.1, 25.2, 24.2, 23.2, 22.3, 21.6, 21.3, 22.0,
    23.7, 26.4, 28.5, 29.4, 29.2, 28.1, 26.9, 26.1, 25.4, 24.7,
    24.5, 25.5, 27.2, 28.9, 29.9, 29.8, 29.2, 28.0, 26.7, 25.4,
    24.1, 23.1, 22.8, 23.9, 25.1, 25.8, 26.1, 26.1, 25.8, 25.4, 24.7]

n5_s6 = [
    24.4, 24.1, 23.8, 23.4, 23.1, 23.0, 23.4, 24.9, 26.8, 27.9,
    27.9, 27.1, 26.1, 25.3, 24.5, 23.9, 23.6, 23.5, 23.5, 24.0,
    25.1, 26.0, 26.2, 25.6, 24.5, 23.7, 23.1, 22.6, 22.3, 22.1,
    22.4, 24.3, 26.6, 28.1, 28.5, 27.9, 27.0, 26.1, 25.4, 24.7,
    24.2, 24.5, 25.6, 27.2, 29.0, 30.1, 30.4, 29.6, 28.3, 27.2,
    26.5, 26.0, 25.8, 26.1, 28.0, 29.6, 30.2, 29.3, 28.1, 27.3,
    26.6, 25.6, 24.6, 23.8, 23.3, 23.1, 23.4, 24.5, 26.0, 27.0,
    27.3, 26.8, 26.2, 25.5, 24.8, 24.1, 22.9, 21.6, 21.4, 23.4,
    25.0, 25.5, 25.2, 24.5, 23.7, 23.1, 22.6, 22.2, 21.9, 21.8,
    22.3, 24.2, 26.9, 27.75, 27.8, 26.7, 25.4, 24.1, 22.9, 21.9,
    21.8, 23.0, 25.0, 27.2, 28.9, 30.3, 30.6, 29.5, 27.9, 26.6,
    25.6, 24.8, 24.2, 25.0, 27.4, 28.2, 28.5, 28.3, 27.7, 26.7, 25.9]
n12_s6 = [
    24.3, 24.0, 23.6, 23.3, 23.0, 23.0, 23.7, 25.5, 27.4, 28.2,
    27.8, 26.8, 25.8, 25.0, 24.2, 23.8, 23.5, 23.4, 23.6, 24.3,
    25.5, 26.3, 26.2, 25.3, 24.2, 23.5, 22.9, 22.5, 22.1, 22.0,
    22.8, 25.0, 27.2, 28.5, 28.5, 27.6, 26.7, 25.9, 25.2, 24.5,
    24.1, 24.8, 26.1, 27.8, 29.5, 30.4, 30.4, 29.2, 27.9, 27.0,
    26.3, 25.9, 25.7, 26.6, 28.7, 30.1, 30.1, 28.9, 27.8, 27.0,
    26.3, 25.3, 24.3, 23.5, 23.1, 23.1, 23.6, 25.0, 26.5, 27.3,
    27.2, 26.6, 26.0, 25.3, 24.6, 23.9, 22.4, 21.2, 21.9, 24.2,
    25.6, 25.6, 25.0, 24.2, 23.4, 23.0, 22.5, 22.1, 21.8, 21.9,
    22.8, 25.0, 27.45, 28.2, 27.9, 26.5, 25.1, 23.8, 22.6, 21.8,
    22.1, 23.7, 25.8, 27.8, 29.4, 30.6, 30.5, 29.1, 27.6, 26.3,
    25.3, 24.6, 24.0, 26.0, 28.0, 28.5, 28.6, 28.2, 27.4, 26.4, 25.7]
n20_s6 = [
    24.3, 23.9, 23.5, 23.2, 22.9, 23.1, 23.9, 25.8, 27.7, 28.2,
    27.7, 26.6, 25.6, 24.8, 24.1, 23.7, 23.5, 23.4, 23.7, 24.5,
    25.7, 26.4, 26.1, 25.1, 24.0, 23.4, 22.8, 22.4, 22.1, 22.0,
    23.1, 25.3, 27.5, 28.6, 28.5, 27.5, 26.5, 25.8, 25.1, 24.4,
    24.1, 25.0, 26.3, 28.1, 29.7, 30.5, 30.3, 29.0, 27.8, 26.8,
    26.2, 25.8, 25.7, 26.9, 29.0, 30.3, 30.0, 28.7, 27.7, 26.9,
    26.2, 25.2, 24.2, 23.4, 23.1, 23.2, 23.7, 25.2, 26.7, 27.4,
    27.2, 26.5, 25.9, 25.2, 24.5, 23.8, 22.1, 21.1, 22.2, 24.6,
    25.8, 25.6, 24.9, 24.1, 23.3, 22.9, 22.4, 22.0, 21.8, 22.0,
    23.0, 25.3, 27.7, 28.35, 27.9, 26.4, 25.0, 23.7, 22.5, 21.7,
    22.3, 24.0, 26.1, 28.0, 29.6, 30.7, 30.4, 28.9, 27.5, 26.2,
    25.2, 24.5, 24.0, 26.5, 28.2, 28.6, 28.6, 28.1, 27.3, 26.3, 25.6]
n30_s6 = [
    24.3, 23.9, 23.5, 23.2, 22.9, 23.1, 24.0, 25.9, 27.8, 28.2,
    27.6, 26.5, 25.6, 24.8, 24.1, 23.7, 23.5, 23.4, 23.7, 24.6,
    25.8, 26.4, 26.0, 25.0, 24.0, 23.4, 22.8, 22.4, 22.1, 22.0,
    23.2, 25.5, 27.6, 28.7, 28.4, 27.4, 26.5, 25.8, 25.1, 24.4,
    24.1, 25.1, 26.4, 28.2, 29.8, 30.5, 30.3, 28.9, 27.7, 26.8,
    26.2, 25.8, 25.7, 27.0, 29.2, 30.4, 29.9, 28.6, 27.6, 26.9,
    26.1, 25.1, 24.1, 23.4, 23.1, 23.2, 23.8, 25.3, 26.8, 27.4,
    27.1, 26.5, 25.9, 25.2, 24.5, 23.7, 22.0, 21.0, 22.4, 24.8,
    25.8, 25.5, 24.8, 24.0, 23.3, 22.9, 22.4, 22.0, 21.8, 22.1,
    23.1, 25.5, 27.8, 28.35, 27.8, 26.3, 24.9, 23.6, 22.4, 21.7,
    22.4, 24.2, 26.3, 28.2, 29.7, 30.8, 30.3, 28.8, 27.4, 26.1,
    25.2, 24.5, 24.0, 26.8, 28.3, 28.6, 28.6, 28.1, 27.2, 26.2, 25.5]

# zoomed insets: observation every 0.25 h, predictions every 0.5 h
ins_c2_obs_start, ins_c2_pred_start = 207.75, 208.5
ins_c2_obs = [29.5, 30.1, 30.16, 31.0, 31.9, 32.0, 32.63, 32.35, 32.29, 32.55,
              32.0, 32.04, 32.43, 32.12, 32.31, 32.12, 31.74, 31.45, 31.2, 31.12,
              30.99, 30.9, 30.73, 30.46, 29.85, 30.17, 29.8]
ins_c2_n5 = [28.6, 28.9, 29.2, 29.45, 29.65, 29.85, 30.05, 30.2, 30.35, 30.43,
             30.43, 30.38, 30.27, 30.17, 30.02, 29.9]
ins_c2_n12 = [29.3, 29.6, 30.1, 30.6, 30.95, 31.24, 31.42, 31.45, 31.35, 31.27,
              31.05, 30.83, 30.52, 30.28, 30.05, 29.8]
ins_c2_n20 = [29.5, 29.95, 30.82, 31.33, 31.58, 31.73, 31.84, 31.76, 31.59, 31.36,
              31.06, 30.78, 30.38, 30.07, 29.8, 29.5]
ins_c2_n30 = [29.7, 30.25, 31.05, 31.45, 31.66, 31.88, 31.98, 31.82, 31.62, 31.4,
              31.1, 30.76, 30.36, 29.98, 29.6, 29.3]

ins_s3_obs_start, ins_s3_pred_start = 181.75, 182.0
ins_s3_obs = [25.9, 26.35, 26.45, 27.25, 26.93, 27.42, 27.36, 27.76, 27.84, 28.15,
              28.8, 28.55, 28.89, 28.33, 28.89, 28.49, 28.39, 28.27, 28.43, 28.69,
              28.84, 28.13, 28.01, 28.13, 27.68, 27.68, 27.9, 27.19, 27.33, 27.11,
              26.7, 27.01, 26.71, 26.48]
ins_s3_n5 = [24.8, 25.2, 25.7, 26.18, 26.7, 27.1, 27.5, 27.76, 27.92, 28.06,
             28.17, 28.16, 28.05, 27.88, 27.67, 27.5, 27.17]
ins_s3_n12 = [25.3, 25.7, 26.14, 26.56, 27.13, 27.52, 27.82, 28.05, 28.14, 28.29,
              28.31, 28.25, 28.12, 27.9, 27.62, 27.4, 27.15]
ins_s3_n20 = [25.4, 25.85, 26.28, 26.74, 27.18, 27.68, 28.0, 28.22, 28.3, 28.35,
              28.38, 28.22, 28.05, 27.85, 27.6, 27.35, 27.1]
ins_s3_n30 = [25.5, 25.95, 26.37, 26.81, 27.24, 27.78, 28.05, 28.24, 28.31, 28.38,
              28.42, 28.22, 28.04, 27.85, 27.6, 27.33, 27.1]

ins_s4_obs_start, ins_s4_pred_start = 181.25, 182.0
ins_s4_obs = [26.6, 27.1, 27.72, 27.42, 28.4, 28.65, 29.03, 29.01, 29.47, 29.34,
              29.3, 29.47, 29.24, 29.67, 29.7, 29.84, 29.86, 29.67, 29.26, 29.81,
              29.11, 29.32, 29.81, 29.42, 28.84, 29.17, 29.07, 28.86, 28.13, 28.36,
              27.81, 28.27, 27.75, 27.79, 27.56, 27.67]
ins_s4_n5 = [26.0, 26.4, 26.72, 27.2, 27.58, 27.98, 28.36, 28.66, 28.85, 28.98,
             29.12, 29.11, 29.02, 28.86, 28.63, 28.45, 28.2]
ins_s4_n12 = [26.4, 26.8, 27.3, 27.76, 28.23, 28.58, 28.95, 29.15, 29.23, 29.3,
              29.35, 29.26, 29.17, 28.86, 28.61, 28.3, 28.12]
ins_s4_n20 = [26.5, 26.92, 27.38, 27.93, 28.4, 28.78, 29.12, 29.36, 29.4, 29.41,
              29.42, 29.33, 29.18, 28.82, 28.55, 28.26, 28.1]
ins_s4_n30 = [26.6, 27.0, 27.45, 28.0, 28.48, 28.82, 29.18, 29.4, 29.42, 29.42,
              29.45, 29.31, 29.17, 28.8, 28.53, 28.25, 28.08]

ins_s6_obs_start, ins_s6_pred_start = 181.5, 182.5
ins_s6_obs = [26.7, 27.35, 27.43, 27.32, 27.34, 27.72, 28.1, 27.59, 27.9, 28.63,
              28.32, 28.66, 28.72, 28.75, 28.55, 28.6, 28.2, 28.01, 28.61, 28.37,
              28.74, 28.35, 28.25, 27.68, 27.62, 27.23, 27.36, 27.59, 26.9, 26.6]
ins_s6_n5 = [26.0, 26.3, 26.6, 26.92, 27.17, 27.5, 27.65, 27.78, 27.91, 28.0,
             27.93, 27.8, 27.62, 27.32, 27.03, 26.7]
ins_s6_n12 = [26.5, 26.75, 27.05, 27.45, 27.78, 28.02, 28.13, 28.18, 28.26, 28.26,
              28.1, 27.84, 27.63, 27.22, 26.85, 26.5]
ins_s6_n20 = [26.8, 27.08, 27.4, 27.72, 28.03, 28.24, 28.3, 28.3, 28.37, 28.36,
              28.08, 27.84, 27.58, 27.15, 26.65, 26.25]
ins_s6_n30 = [26.85, 27.13, 27.46, 27.77, 28.1, 28.3, 28.32, 28.3, 28.37, 28.33,
              28.05, 27.82, 27.56, 27.1, 26.6, 26.2]

captions = ['a', 'b', 'c', 'd']
sites = ['C2', 'S3', 'S4', 'S6']
labels = ['Observation', r'$N$=5', r'$N$=12', r'$N$=20', r'$N$=30']

# ---------------- styles ----------------
colors = ['#EDB120', '#EE6262', '#6CA6D9', '#86C986', '#C283C8']
dashes = ['-', (0, (5.2, 4.25)), (0, (3.25, 3.8, 0.5, 3.4, 0.5, 3.6)),
          (0, (0.05, 1.8)), (0, (1.8, 2.85))]
caps = ['butt', 'butt', 'round', 'round', 'round']
widths = [1.2, 1.3, 1.3, 1.3, 1.3]

W, H = 3706, 2374
fig = plt.figure(figsize=(W / 300, H / 300), dpi=300)


def rect(l, r, t, b):
    return [l / W, 1 - b / H, (r - l) / W, (b - t) / H]


def join_halves(whole, half):
    out = np.empty(len(whole) + len(half))
    out[0::2] = whole
    out[1::2] = half
    return out


panels = [
    dict(main=(201, 1743, 45, 896), ins=(1050, 1423, 72, 326),
         obs=join_halves(obs_c2, obs_c2_half), preds=[n5_c2, n12_c2, n20_c2, n30_c2],
         ylim=(20, 36), yt=[20, 24, 28, 32, 36], ym=[22, 26, 30, 34],
         iobs=ins_c2_obs, ipreds=[ins_c2_n5, ins_c2_n12, ins_c2_n20, ins_c2_n30],
         i0=(ins_c2_obs_start, ins_c2_pred_start),
         ixlim=(206, 216), iylim=(30, 33),
         ylab_x=56, xlab_y=1027, cap=(908, 1128), fs=16, ls=0.28),
    dict(main=(2101, 3627, 45, 896), ins=(2857, 3227, 72, 326),
         obs=join_halves(obs_s3, obs_s3_half), preds=[n5_s3, n12_s3, n20_s3, n30_s3],
         ylim=(19, 35), yt=[19, 23, 27, 31, 35], ym=[21, 25, 29, 33],
         iobs=ins_s3_obs, ipreds=[ins_s3_n5, ins_s3_n12, ins_s3_n20, ins_s3_n30],
         i0=(ins_s3_obs_start, ins_s3_pred_start),
         ixlim=(180, 190), iylim=(26, 29),
         ylab_x=1956, xlab_y=1027, cap=(2789, 1128), fs=16, ls=0.28),
    dict(main=(196, 1748, 1217, 2082), ins=(952, 1332, 1243, 1503),
         obs=join_halves(obs_s4, obs_s4_half), preds=[n5_s4, n12_s4, n20_s4, n30_s4],
         ylim=(20, 35), yt=[20, 23, 26, 29, 32, 35], ym=[21.5, 24.5, 27.5, 30.5, 33.5],
         iobs=ins_s4_obs, ipreds=[ins_s4_n5, ins_s4_n12, ins_s4_n20, ins_s4_n30],
         i0=(ins_s4_obs_start, ins_s4_pred_start),
         ixlim=(180, 190), iylim=(27, 30),
         ylab_x=51, xlab_y=2203, cap=(910, 2300), fs=15, ls=0.25),
    dict(main=(2082, 3636, 1217, 2082), ins=(2921, 3301, 1255, 1513),
         obs=join_halves(obs_s6, obs_s6_half), preds=[n5_s6, n12_s6, n20_s6, n30_s6],
         ylim=(20, 35), yt=[20, 23, 26, 29, 32, 35], ym=[21.5, 24.5, 27.5, 30.5, 33.5],
         iobs=ins_s6_obs, ipreds=[ins_s6_n5, ins_s6_n12, ins_s6_n20, ins_s6_n30],
         i0=(ins_s6_obs_start, ins_s6_pred_start),
         ixlim=(180, 190), iylim=(27, 29),
         ylab_x=1937, xlab_y=2203, cap=(2796, 2300), fs=15, ls=0.25),
]

t_obs = np.arange(481) * 0.5
t_pred = np.arange(0, 241, 2)

for k, p in enumerate(panels):
    l, r, t, b = p['main']
    ax = fig.add_axes(rect(l, r, t, b))
    series = [p['obs']] + p['preds']
    xs = [t_obs] + [t_pred] * 4
    for i, (x, y) in enumerate(zip(xs, series)):
        ax.plot(x, y, color=colors[i], lw=widths[i], linestyle=dashes[i],
                dash_capstyle=caps[i], label=labels[i])
    ax.set_xlim(0, 240)
    ax.set_ylim(*p['ylim'])
    ax.set_xticks([0, 60, 120, 180, 240])
    ax.set_xticks([30, 90, 150, 210], minor=True)
    ax.set_yticks(p['yt'])
    ax.set_yticks(p['ym'], minor=True)
    ax.tick_params(which='both', direction='in', top=False, right=False,
                   width=0.9, labelsize=16)
    ax.tick_params(which='major', length=4)
    ax.tick_params(which='minor', length=2.3)
    ax.tick_params(axis='x', pad=6)
    ax.tick_params(axis='y', pad=5)
    for s in ax.spines.values():
        s.set_linewidth(0.9)
    ax.legend(loc='upper left', bbox_to_anchor=(0.0136, 0.972), frameon=False,
              fontsize=p['fs'], handlelength=2.2, handletextpad=0.15,
              labelspacing=p['ls'], borderpad=0, borderaxespad=0)

    fig.text(p['ylab_x'] / W, 1 - (t + b) / 2 / H, 'Temperature/°C', rotation=90,
             ha='center', va='center', fontsize=p['fs'])
    fig.text((l + r) / 2 / W, 1 - p['xlab_y'] / H, 'Time/h',
             ha='center', va='center', fontsize=p['fs'])
    cx, cy = p['cap']
    fig.text(cx / W, 1 - cy / H, '(' + r'$\mathbf{' + captions[k] + '}$' + ') ' + sites[k],
             ha='center', va='center', fontsize=19)

    # zoomed inset
    il, ir, it, ib = p['ins']
    axi = fig.add_axes(rect(il, ir, it, ib))
    axi.set_facecolor('none')
    o0, p0 = p['i0']
    ix_obs = o0 + 0.25 * np.arange(len(p['iobs']))
    ix_pred = p0 + 0.5 * np.arange(len(p['ipreds'][0]))
    axi.plot(ix_obs, p['iobs'], color=colors[0], lw=1.15)
    for i, y in enumerate(p['ipreds']):
        axi.plot(ix_pred, y, color=colors[i + 1], lw=1.15, linestyle=dashes[i + 1],
                 dash_capstyle=caps[i + 1])
    x0, x1 = p['ixlim']
    y0, y1 = p['iylim']
    axi.set_xlim(x0, x1)
    axi.set_ylim(y0, y1)
    axi.set_xticks([x0, (x0 + x1) / 2, x1])
    axi.set_xticks([x0 + 2.5, x1 - 2.5], minor=True)
    axi.set_yticks(np.arange(y0, y1 + 0.5, 1))
    axi.set_yticks(np.arange(y0 + 0.5, y1, 1), minor=True)
    axi.spines['top'].set_visible(False)
    axi.spines['right'].set_visible(False)
    for s in ('left', 'bottom'):
        axi.spines[s].set_linewidth(1.0)
    axi.tick_params(which='both', direction='in', width=1.0, labelsize=10.5)
    axi.tick_params(which='major', length=4)
    axi.tick_params(which='minor', length=2)
    axi.tick_params(axis='x', pad=5)
    axi.tick_params(axis='y', pad=4)
    axi.set_xticklabels([str(int(v)) for v in (x0, (x0 + x1) / 2, x1)])

fig.savefig('out.png', dpi=300)
